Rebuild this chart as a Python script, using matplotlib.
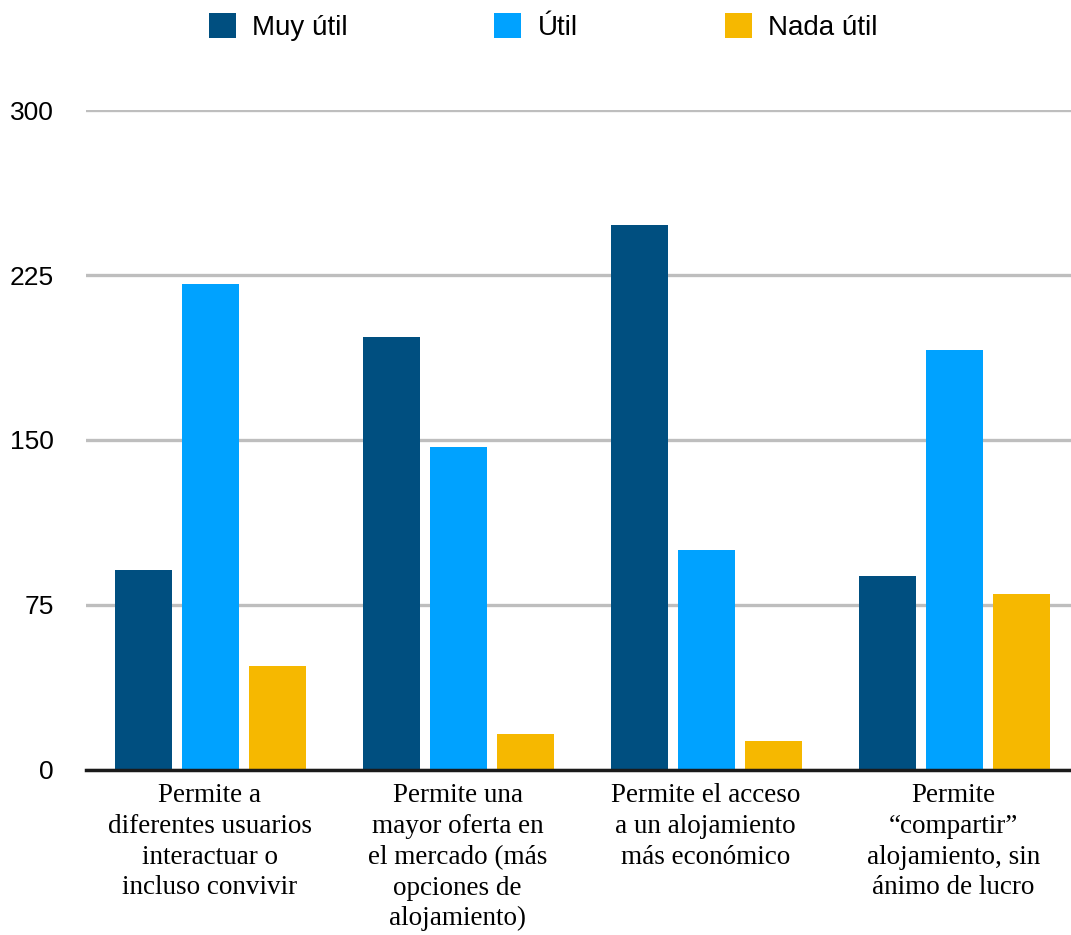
import numpy as np
import matplotlib
matplotlib.use("Agg")
import matplotlib.pyplot as plt

# -------- Data --------
categories = [
    "Permite a\ndiferentes usuarios\ninteractuar o\nincluso convivir",
    "Permite una\nmayor oferta en\nel mercado (más\nopciones de\nalojamiento)",
    "Permite el acceso\na un alojamiento\nmás económico",
    "Permite\n\u201ccompartir\u201d\nalojamiento, sin\nánimo de lucro",
]
series_names = ["Muy útil", "Útil", "Nada útil"]
muy_util = [91, 197, 248, 88]
util = [221, 147, 100, 191]
nada_util = [47, 16, 13, 80]
y_ticks = [0, 75, 150, 225, 300]

colors = ["#004F80", "#00A2FF", "#F6B800"]

# -------- Figure --------
fig = plt.figure(figsize=(10.71, 9.35), dpi=100)
ax = fig.add_axes([86 / 1071, 0.177, 1 - 86 / 1071, 0.705])

x = np.arange(len(categories))
width = 0.23
offset = 0.27
for i, (vals, name) in enumerate(zip([muy_util, util, nada_util], series_names)):
    ax.bar(x + (i - 1) * offset + 0.004, vals, width, color=colors[i], label=name, zorder=3)

ax.set_xlim(-0.5, 3.475)
ax.set_ylim(0, 300)
ax.set_yticks(y_ticks)
ax.set_yticklabels([str(t) for t in y_ticks], fontsize=19, family="Liberation Sans")
ax.tick_params(axis="y", length=0, pad=23)
ax.set_xticks(x)
ax.set_xticklabels(categories, fontsize=19.5, family="Liberation Serif", linespacing=1.3)
ax.tick_params(axis="x", length=0, pad=10)

ax.grid(axis="y", color="#BEBEBE", linewidth=2.4, zorder=0)
ax.set_axisbelow(True)
for side in ["top", "right", "left"]:
    ax.spines[side].set_visible(False)
ax.spines["bottom"].set_color("#1A1A1A")
ax.spines["bottom"].set_linewidth(2.5)
ax.spines["bottom"].set_zorder(4)

fig.legend(loc="center", bbox_to_anchor=(0.507, 0.971), ncol=3, frameon=False,
           prop={"family": "Liberation Sans", "size": 20},
           handlelength=0.97, handleheight=0.97, handletextpad=0.58,
           columnspacing=5.3)

fig.savefig("out.png", dpi=100)
